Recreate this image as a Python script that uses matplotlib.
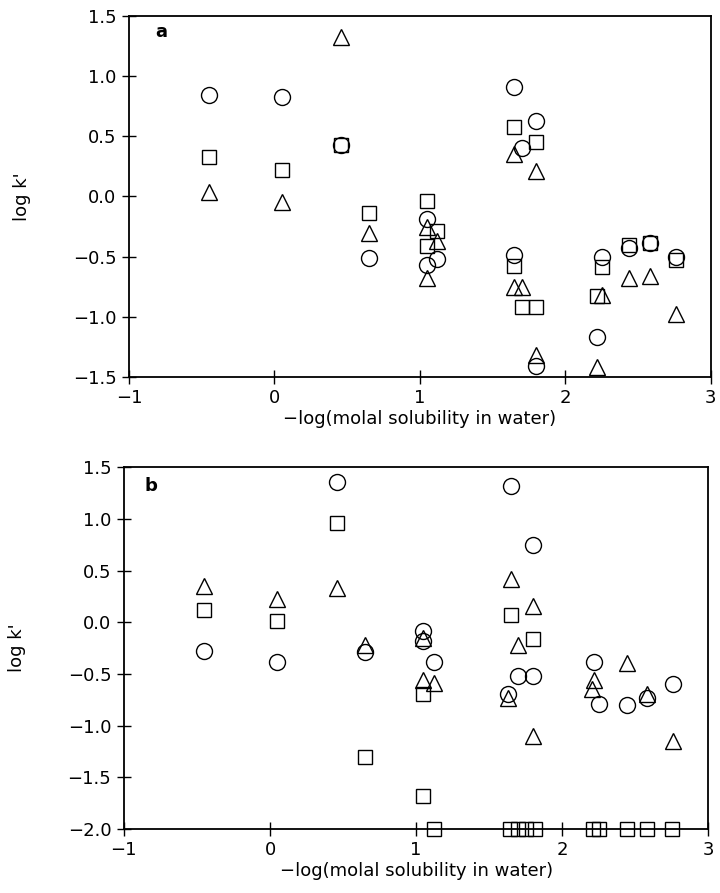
import matplotlib
matplotlib.use("Agg")
import matplotlib.pyplot as plt
import numpy as np


# ---------------------------
# Data
# ---------------------------

# panel a
a_circle_x = [-0.45, 0.05, 0.46, 0.65, 1.05, 1.12, 1.05, 1.65, 1.80, 1.70, 1.65, 1.80, 2.25, 2.22, 2.44, 2.58, 2.76]
a_circle_y = [0.84, 0.83, 0.43, -0.51, -0.19, -0.52, -0.57, 0.91, 0.63, 0.40, -0.49, -1.41, -0.50, -1.17, -0.43, -0.39, -0.50]

a_square_x = [-0.45, 0.05, 0.46, 0.65, 1.05, 1.12, 1.05, 1.65, 1.80, 1.65, 1.70, 1.80, 2.25, 2.22, 2.44, 2.58, 2.76]
a_square_y = [0.33, 0.22, 0.43, -0.14, -0.04, -0.29, -0.41, 0.58, 0.45, -0.58, -0.92, -0.92, -0.59, -0.83, -0.40, -0.39, -0.53]

a_tri_x = [0.46, -0.45, 0.05, 0.65, 1.05, 1.12, 1.05, 1.65, 1.80, 1.65, 1.70, 1.80, 2.25, 2.22, 2.44, 2.58, 2.76]
a_tri_y = [1.33, 0.04, -0.05, -0.30, -0.25, -0.37, -0.68, 0.35, 0.21, -0.75, -0.75, -1.32, -0.82, -1.42, -0.68, -0.66, -0.98]

# panel b
b_circle_x = [-0.45, 0.05, 0.46, 0.65, 1.05, 1.05, 1.12, 1.65, 1.80, 1.70, 1.80, 1.63, 2.22, 2.25, 2.44, 2.58, 2.76]
b_circle_y = [-0.28, -0.38, 1.36, -0.29, -0.08, -0.18, -0.38, 1.32, 0.75, -0.52, -0.52, -0.69, -0.38, -0.79, -0.80, -0.73, -0.60]

b_square_x = [-0.45, 0.05, 0.46, 0.65, 1.05, 1.05, 1.12, 1.65, 1.80, 1.64, 1.70, 1.75, 1.81, 2.21, 2.25, 2.44, 2.58, 2.75]
b_square_y = [0.12, 0.01, 0.96, -1.30, -0.69, -1.68, -2.0, 0.07, -0.16, -2.0, -2.0, -2.0, -2.0, -2.0, -2.0, -2.0, -2.0, -2.0]

b_tri_x = [-0.45, 0.05, 0.46, 0.65, 1.05, 1.05, 1.12, 1.65, 1.80, 1.70, 1.63, 1.80, 2.22, 2.20, 2.44, 2.58, 2.76]
b_tri_y = [0.35, 0.23, 0.33, -0.22, -0.15, -0.56, -0.59, 0.42, 0.16, -0.22, -0.73, -1.10, -0.56, -0.65, -0.39, -0.69, -1.15]

x_ticks = [-1, 0, 1, 2, 3]
a_y_ticks = [-1.5, -1.0, -0.5, 0.0, 0.5, 1.0, 1.5]
b_y_ticks = [-2.0, -1.5, -1.0, -0.5, 0.0, 0.5, 1.0, 1.5]


# ---------------------------
# Plot style
# ---------------------------

plt.rcParams["font.family"] = "DejaVu Sans"
plt.rcParams["font.size"] = 13

mk = dict(linestyle="none", markerfacecolor="none", markeredgecolor="black",
          markeredgewidth=1.0, clip_on=False)


def fmt(v):
    return f"{v:.1f}".replace("-", "\u2212")


def draw_panel(ax, cx, cy, sx, sy, tx, ty, yticks, letter, lx, ly):
    ax.plot(sx, sy, marker="s", markersize=10.5, **mk)
    ax.plot(tx, ty, marker="^", markersize=11, **mk)
    ax.plot(cx, cy, marker="o", markersize=11.5, **mk)

    ax.set_xlim(-1, 3)
    ax.set_ylim(yticks[0], yticks[-1])
    ax.set_xticks(x_ticks)
    ax.set_yticks(yticks)
    ax.set_yticklabels([fmt(v) for v in yticks])

    ax.tick_params(direction="inout", length=10, width=1.0, pad=4,
                   top=False, right=False)
    for s in ax.spines.values():
        s.set_linewidth(1.3)

    ax.set_xlabel("\u2212log(molal solubility in water)", labelpad=2)
    ax.set_ylabel("log k'", labelpad=30)
    ax.text(lx, ly, letter, transform=ax.transAxes, fontsize=13,
            fontweight="bold", ha="left", va="center")


fig = plt.figure(figsize=(7.2, 8.93), dpi=100)
fig.patch.set_facecolor("white")

ax_a = fig.add_axes([0.179, 0.578, 0.808, 0.404])
ax_b = fig.add_axes([0.172, 0.0717, 0.812, 0.405])

draw_panel(ax_a, a_circle_x, a_circle_y, a_square_x, a_square_y,
           a_tri_x, a_tri_y, a_y_ticks, "a", 0.045, 0.955)
draw_panel(ax_b, b_circle_x, b_circle_y, b_square_x, b_square_y,
           b_tri_x, b_tri_y, b_y_ticks, "b", 0.035, 0.947)

fig.savefig("out.png", dpi=100, facecolor="white")
plt.close(fig)
